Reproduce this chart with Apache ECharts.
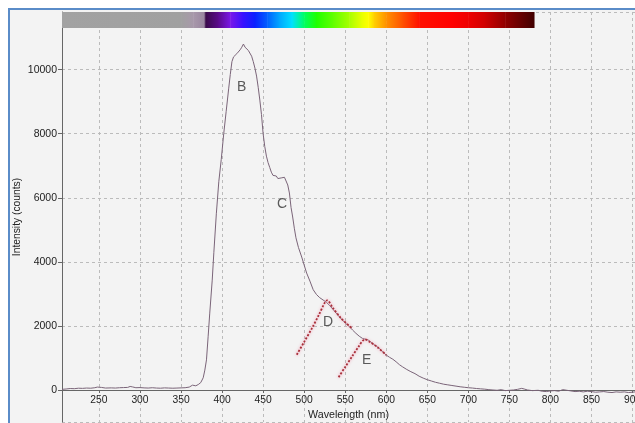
<!DOCTYPE html>
<html>
<head>
<meta charset="utf-8">
<script src="https://cdn.jsdelivr.net/npm/echarts@6/dist/echarts.min.js"></script>
<style>
  html, body { margin: 0; padding: 0; background: #fff; }
  #chart {
    position: absolute; left: 8px; top: 8px;
    width: 625px; height: 413px;
    border-left: 2px solid #5a8cc8; border-top: 2px solid #5a8cc8;
    background: #f3f3f3;
  }
</style>
</head>
<body>
<div id="chart"></div>
<script>
// emission spectrum
const wavelength = [205,210,215,220,225,230,235,240,245,248,250,253,258,265,270,275,280,285,288,291,295,300,305,310,315,320,325,330,335,340,345,350,355,360,364,368,371,374,377,379,381,383,385,388,390,393,396,399,402,405,408,410,412,414,416,418,420,422,424,426,427,428,430,432,434,436,438,440,442,444,446,448,450,452,454,456,458,460,462,464,466,468,470,472,474,476,478,480,482,484,486,488,490,493,497,500,503,507,511,515,519,523,527,531,535,539,543,547,551,555,559,563,567,571,575,578,581,585,589,592,596,600,604,608,612,616,620,625,630,635,640,645,650,655,660,665,670,675,680,685,690,695,700,705,710,715,720,725,730,735,740,745,750,755,760,765,768,772,778,785,790,795,800,805,810,815,820,825,830,835,840,845,850,855,860,865,870,875,880,885,890,895,900,903];
const counts = [20,30,45,40,55,50,60,55,70,90,140,80,60,65,60,70,75,80,110,95,70,75,65,60,70,60,55,65,60,55,60,65,70,90,150,130,170,230,380,620,940,1660,2400,3430,4300,5500,6500,7200,8000,8700,9400,9850,10250,10400,10380,10500,10550,10620,10700,10800,10760,10700,10720,10600,10550,10420,10250,10050,9800,9450,9050,8600,8000,7600,7300,7100,6950,6800,6700,6650,6680,6600,6660,6620,6580,6640,6580,6400,6150,5700,5400,5050,4750,4450,4150,3900,3650,3400,3130,2980,2880,2810,2740,2640,2520,2400,2280,2170,2070,1980,1870,1770,1680,1610,1580,1560,1500,1420,1350,1290,1180,1090,1020,960,880,790,720,640,570,510,430,370,320,280,240,210,180,160,140,120,100,85,70,60,45,35,25,10,0,-10,10,-20,-10,0,20,50,30,0,-20,-10,-40,-50,-30,-20,-40,10,-10,-30,-50,-40,-60,-40,-50,-70,-60,-50,-70,-80,-60,-70,-60,-80,-70,-60];

// fitted component curves (dotted)
const fitD_x = [491,500,510,518,525,528,535,545,558];
const fitD_y = [1100,1500,1950,2350,2720,2800,2560,2240,1930];
const fitE_x = [542,550,558,566,574,580,590,600];
const fitE_y = [400,720,1030,1340,1580,1500,1320,1090];

// peak letters
const peakNames = ['B','C','D','E'];
const peakX = [424,473,529,576];
const peakY = [9460,5810,2120,940];

// visible-spectrum strip along the top
const stripNm = [205,350,365,378,380,395,410,425,440,455,470,485,500,515,535,555,570,578,585,600,620,640,680,700,720,745,780];
const stripColors = ['#a2a2a2','#a0a0a0','#a898aa','#9a86a0','#3a0a4a','#5a0a8a','#7a18e8','#3a10ff','#0a20ff','#0060ff','#00a8ff','#00e0ff','#00ff60','#20ff00','#60ff00','#a8ff00','#e8ff00','#ffff00','#ffd000','#ff9000','#ff5000','#ff1000','#ff0000','#ee0000','#d00000','#900000','#400000'];

const spectrum = wavelength.map((w, i) => [w, counts[i]]);
const fitD = fitD_x.map((w, i) => [w, fitD_y[i]]);
const fitE = fitE_x.map((w, i) => [w, fitE_y[i]]);
const peaks = peakNames.map((n, i) => [peakX[i], peakY[i], n]);
const strip = [];
for (let i = 0; i < stripNm.length - 1; i++) strip.push([stripNm[i], stripNm[i + 1], i]);

const el = document.getElementById('chart');
const chart = echarts.init(el);

const fitStyle = {
  color: '#a8303a', width: 1.8, type: [2, 1.6],
  shadowColor: 'rgba(245,130,160,0.9)', shadowBlur: 3
};

chart.setOption({
  animation: false,
  textStyle: { fontFamily: 'Liberation Sans, Arial, sans-serif' },
  grid: { left: 52, right: 0, top: 2, bottom: 1, containLabel: false, outerBoundsMode: 'none' },
  xAxis: {
    type: 'value', min: 205, max: 903, splitNumber: 14,
    // axis sits on y=0, which is 1000 counts above the grid bottom
    offset: -32,
    name: 'Wavelength (nm)', nameLocation: 'middle', nameGap: 20, nameMoveOverlap: false,
    nameTextStyle: { fontSize: 10.7, color: '#222' },
    axisLine: { onZero: false, lineStyle: { color: '#666', width: 1 } },
    axisTick: { length: 3, lineStyle: { color: '#666' } },
    axisLabel: { fontSize: 10.3, color: '#222', margin: 5, showMinLabel: false, showMaxLabel: false },
    splitLine: { show: true, lineStyle: { color: '#bbb', type: [3, 3], width: 1 } }
  },
  yAxis: {
    type: 'value', min: -1000, max: 11800, splitNumber: 6,
    name: 'Intensity (counts)', nameLocation: 'middle', nameGap: 40, nameMoveOverlap: false,
    nameTextStyle: { fontSize: 10.3, color: '#222' },
    axisLine: { show: true, lineStyle: { color: '#666', width: 1 } },
    axisTick: { show: true, length: 4, lineStyle: { color: '#666' } },
    axisLabel: {
      fontSize: 10.5, color: '#222', margin: 5, showMinLabel: false, showMaxLabel: false,
      formatter: v => (v >= 0 && v % 2000 === 0) ? String(v) : ''
    },
    splitLine: { show: true, lineStyle: { color: '#bbb', type: [3, 3], width: 1 } }
  },
  series: [
    {
      type: 'custom',
      data: strip,
      encode: { x: [0, 1] },
      silent: true,
      renderItem: (params, api) => {
        const i = api.value(2);
        const p0 = api.coord([api.value(0), 11800]);
        const p1 = api.coord([api.value(1), 11300]);
        return {
          type: 'rect',
          shape: { x: p0[0], y: p0[1], width: p1[0] - p0[0] + 0.5, height: p1[1] - p0[1] },
          style: {
            fill: new echarts.graphic.LinearGradient(0, 0, 1, 0, [
              { offset: 0, color: stripColors[i] },
              { offset: 1, color: stripColors[i + 1] }
            ])
          }
        };
      }
    },
    {
      type: 'line', data: spectrum, showSymbol: false,
      lineStyle: { color: '#7a6478', width: 1 }
    },
    { type: 'line', data: fitD, showSymbol: false, smooth: 0.3, lineStyle: fitStyle },
    { type: 'line', data: fitE, showSymbol: false, smooth: 0.3, lineStyle: fitStyle },
    {
      type: 'scatter', data: peaks, symbolSize: 0,
      itemStyle: { color: 'transparent' },
      label: {
        show: true, position: 'inside', fontSize: 14, color: '#333',
        formatter: p => p.value[2]
      }
    }
  ]
});
window.onresize = () => chart.resize();
</script>
</body>
</html>
